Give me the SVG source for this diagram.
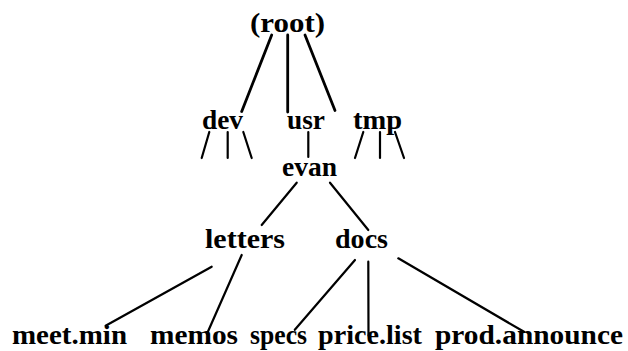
<svg xmlns="http://www.w3.org/2000/svg" width="628" height="351" viewBox="0 0 628 351">
<style>
.t{font-family:"Liberation Serif","DejaVu Serif",serif;font-weight:bold;font-size:27px;fill:#000}
.e{stroke:#000;stroke-width:2.2;stroke-linecap:round;fill:none}
.r{stroke-width:2.8}
</style>
<rect width="628" height="351" fill="#fff"/>
<g id="connectors">
<line class="e r" x1="271.7" y1="35" x2="241.7" y2="111.5"/>
<line class="e r" x1="287.7" y1="35" x2="287.7" y2="112"/>
<line class="e r" x1="305" y1="35" x2="335" y2="110.5"/>
<line class="e" x1="209.3" y1="132" x2="201.7" y2="158"/>
<line class="e" x1="227.7" y1="132" x2="227.7" y2="158"/>
<line class="e" x1="243.3" y1="132" x2="251.7" y2="158"/>
<line class="e" x1="308.3" y1="132" x2="308.3" y2="157"/>
<line class="e" x1="363.3" y1="132" x2="355" y2="158"/>
<line class="e" x1="380" y1="132" x2="380" y2="158"/>
<line class="e" x1="395" y1="132" x2="404" y2="158"/>
<line class="e" x1="296.7" y1="182.7" x2="261.7" y2="225"/>
<line class="e" x1="330" y1="182.7" x2="368.3" y2="230"/>
<line class="e" x1="211.7" y1="266.7" x2="105.6" y2="325.8"/>
<line class="e" x1="241.7" y1="255" x2="207" y2="333.7"/>
<line class="e" x1="355" y1="260" x2="294.8" y2="329.8"/>
<line class="e" x1="368.3" y1="261.7" x2="368.5" y2="335.7"/>
<line class="e" x1="398.3" y1="258.3" x2="524" y2="331.8"/>
</g>
<g id="root"><text class="t" x="250" y="32" textLength="75" lengthAdjust="spacingAndGlyphs">(root)</text></g>
<g id="dev"><text class="t" x="202" y="129" textLength="41" lengthAdjust="spacingAndGlyphs">dev</text></g>
<g id="usr"><text class="t" x="287" y="129" textLength="38" lengthAdjust="spacingAndGlyphs">usr</text></g>
<g id="tmp"><text class="t" x="353" y="129" textLength="49" lengthAdjust="spacingAndGlyphs">tmp</text></g>
<g id="evan"><text class="t" x="282" y="176" textLength="55" lengthAdjust="spacingAndGlyphs">evan</text></g>
<g id="letters"><text class="t" x="205" y="248" textLength="80" lengthAdjust="spacingAndGlyphs">letters</text></g>
<g id="docs"><text class="t" x="335" y="248" textLength="53" lengthAdjust="spacingAndGlyphs">docs</text></g>
<g id="meet.min"><text class="t" x="12" y="344" textLength="115" lengthAdjust="spacingAndGlyphs">meet.min</text></g>
<g id="memos"><text class="t" x="150" y="344" textLength="88" lengthAdjust="spacingAndGlyphs">memos</text></g>
<g id="specs"><text class="t" x="250" y="344" textLength="57" lengthAdjust="spacingAndGlyphs">specs</text></g>
<g id="price.list"><text class="t" x="318" y="344" textLength="104" lengthAdjust="spacingAndGlyphs">price.list</text></g>
<g id="prod.announce"><text class="t" x="435" y="344" textLength="188" lengthAdjust="spacingAndGlyphs">prod.announce</text></g>
</svg>
